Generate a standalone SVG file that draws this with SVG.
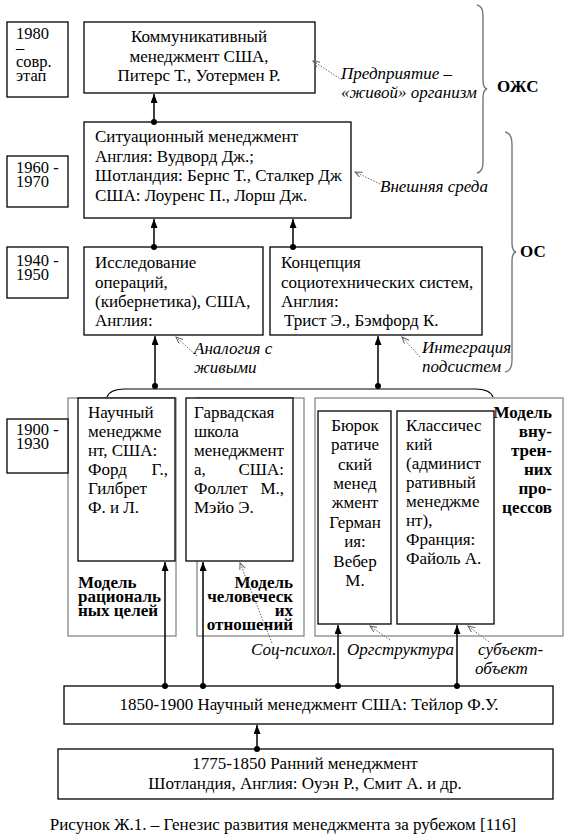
<svg xmlns="http://www.w3.org/2000/svg" width="574" height="838" viewBox="0 0 574 838" font-family="'Liberation Serif', 'Times New Roman', serif">
<style>
text{font-family:'Liberation Serif','Times New Roman',serif;font-size:17px;fill:#000}
.b{font-weight:bold}
.i{font-style:italic}
.c{text-anchor:middle}
.e{text-anchor:end}
.y{font-size:16.5px}
.box{fill:#fff;stroke:#000;stroke-width:1.3}
.grp{fill:none;stroke:#888;stroke-width:1.3}
.con{stroke:#000;stroke-width:1.5;fill:none}
.dot{fill:#000}
.hint{stroke:#666;stroke-width:1;stroke-dasharray:1.5 1.5;fill:none}
.brace{stroke:#777;stroke-width:1.4;fill:none}
</style>
<defs>
<marker id="ah" markerUnits="userSpaceOnUse" markerWidth="8" markerHeight="10" refX="9" refY="3.5" orient="auto">
<path d="M0,0 L9,3.5 L0,7 z" fill="#000"/>
</marker>
<marker id="ha" markerUnits="userSpaceOnUse" markerWidth="8" markerHeight="8" refX="7" refY="3" orient="auto">
<path d="M0,0 L7,3 L0,6" fill="none" stroke="#666" stroke-width="1"/>
</marker>
</defs>

<g id="groups">
<rect class="grp" x="68" y="398" width="108" height="238"/>
<rect class="grp" x="197" y="398" width="107" height="238"/>
<rect class="grp" x="315" y="398" width="248" height="238"/>
</g>

<g id="year-1980"><rect class="box" x="7" y="22" width="61" height="75"/>
<text class="y" x="16" y="39">1980</text><text class="y" x="16" y="53">–</text><text class="y" x="16" y="67">совр.</text><text class="y" x="16" y="81">этап</text></g>
<g id="year-1960"><rect class="box" x="7" y="156" width="61" height="51"/>
<text class="y" x="16" y="173">1960 -</text><text class="y" x="16" y="187">1970</text></g>
<g id="year-1940"><rect class="box" x="7" y="247" width="61" height="51"/>
<text class="y" x="16" y="266">1940 -</text><text class="y" x="16" y="280">1950</text></g>
<g id="year-1900"><rect class="box" x="7" y="419" width="61" height="54"/>
<text class="y" x="16" y="435">1900 -</text><text class="y" x="16" y="449">1930</text></g>

<g id="n-communicative"><rect class="box" x="84" y="22" width="231" height="71"/>
<text class="c" x="199" y="42">Коммуникативный</text>
<text class="c" x="199" y="62">менеджмент США,</text>
<text class="c" x="199" y="81">Питерс Т., Уотермен Р.</text></g>

<g id="n-situational"><rect class="box" x="84" y="122" width="267" height="96"/>
<text x="95" y="142">Ситуационный менеджмент</text>
<text x="95" y="162">Англия: Вудворд Дж.;</text>
<text x="95" y="181">Шотландия: Бернс Т., Сталкер Дж</text>
<text x="95" y="201">США: Лоуренс П., Лорш Дж.</text></g>

<g id="n-operations"><rect class="box" x="84" y="247" width="179" height="88"/>
<text x="95" y="268">Исследование</text>
<text x="95" y="288">операций,</text>
<text x="95" y="307">(кибернетика), США,</text>
<text x="95" y="326">Англия:</text></g>

<g id="n-sociotech"><rect class="box" x="270" y="247" width="212" height="88"/>
<text x="281" y="268">Концепция</text>
<text x="281" y="288">социотехнических систем,</text>
<text x="281" y="307">Англия:</text>
<text x="284" y="326">Трист Э., Бэмфорд К.</text></g>

<g id="n-scientific"><rect class="box" x="78" y="398" width="97" height="163"/>
<text x="88" y="418">Научный</text>
<text x="88" y="437">менеджме</text>
<text x="88" y="456">нт, США:</text>
<text x="88" y="475">Форд</text><text class="e" x="168" y="475">Г.,</text>
<text x="88" y="494">Гилбрет</text>
<text x="88" y="513">Ф. и Л.</text></g>

<g id="n-harvard"><rect class="box" x="186" y="398" width="107" height="163"/>
<text x="194" y="418">Гарвадская</text>
<text x="194" y="437">школа</text>
<text x="194" y="456">менеджмент</text>
<text x="194" y="475">а,</text><text class="e" x="284" y="475">США:</text>
<text x="194" y="494">Фоллет</text><text class="e" x="284" y="494">М.,</text>
<text x="194" y="513">Мэйо Э.</text></g>

<g id="n-bureaucratic"><rect class="box" x="318" y="411" width="73" height="213"/>
<text class="c" x="355" y="431">Бюрок</text>
<text class="c" x="355" y="450">ратиче</text>
<text class="c" x="355" y="470">ский</text>
<text class="c" x="355" y="489">менед</text>
<text class="c" x="355" y="508">жмент</text>
<text class="c" x="355" y="528">Герман</text>
<text class="c" x="355" y="547">ия:</text>
<text class="c" x="355" y="567">Вебер</text>
<text class="c" x="355" y="586">М.</text></g>

<g id="n-classic"><rect class="box" x="397" y="411" width="97" height="213"/>
<text x="406" y="431">Классичес</text>
<text x="406" y="450">кий</text>
<text x="406" y="469">(админист</text>
<text x="406" y="488">ративный</text>
<text x="406" y="507">менеджме</text>
<text x="406" y="526">нт),</text>
<text x="406" y="545">Франция:</text>
<text x="406" y="564">Файоль А.</text></g>

<g id="labels-models">
<text class="b" x="78" y="588">Модель</text>
<text class="b" x="78" y="602">рациональ</text>
<text class="b" x="78" y="616">ных целей</text>
<text class="b e" x="293" y="588">Модель</text>
<text class="b e" x="293" y="602">человеческ</text>
<text class="b e" x="293" y="616">их</text>
<text class="b e" x="293" y="630">отношений</text>
<text class="b e" x="552" y="418">Модель</text>
<text class="b e" x="552" y="437">вну-</text>
<text class="b e" x="552" y="456">трен-</text>
<text class="b e" x="552" y="475">них</text>
<text class="b e" x="552" y="494">про-</text>
<text class="b e" x="552" y="513">цессов</text>
</g>

<g id="n-taylor"><rect class="box" x="64" y="686" width="489" height="38"/>
<text class="c" x="309" y="710">1850-1900 Научный менеджмент США: Тейлор Ф.У.</text></g>

<g id="n-early"><rect class="box" x="58" y="749" width="495" height="50"/>
<text class="c" x="305" y="769">1775-1850 Ранний менеджмент</text>
<text class="c" x="305" y="789">Шотландия, Англия: Оуэн Р., Смит А. и др.</text></g>

<g id="braces">
<path class="brace" d="M477,5 Q483,6 483,16 L483,80 Q483,88 487,89 Q483,90 483,98 L483,162 Q483,172 477,173"/>
<path class="brace" d="M505,132 Q512,133 512,145 L512,243 Q512,251 516,252 Q512,253 512,261 L512,360 Q512,371 505,372"/>
<path class="con" style="stroke-width:1.2" d="M107,397 Q110,389 125,389 L475,389 Q490,389 493,397"/>
<text class="b" x="497" y="92">ОЖС</text>
<text class="b" x="520" y="257">ОС</text>
</g>

<g id="connectors">
<line class="con" x1="154" y1="122" x2="154" y2="94" marker-end="url(#ah)"/>
<line class="con" x1="154" y1="247" x2="154" y2="219" marker-end="url(#ah)"/>
<line class="con" x1="293" y1="247" x2="293" y2="219" marker-end="url(#ah)"/>
<line class="con" x1="155" y1="386" x2="155" y2="336" marker-end="url(#ah)"/>
<line class="con" x1="378" y1="386" x2="378" y2="336" marker-end="url(#ah)"/>
<line class="con" x1="165" y1="686" x2="165" y2="562" marker-end="url(#ah)"/>
<line class="con" x1="203" y1="686" x2="203" y2="562" marker-end="url(#ah)"/>
<line class="con" x1="338" y1="686" x2="338" y2="625" marker-end="url(#ah)"/>
<line class="con" x1="457" y1="686" x2="457" y2="625" marker-end="url(#ah)"/>
<line class="con" x1="257" y1="749" x2="257" y2="725" marker-end="url(#ah)"/>
<circle class="dot" cx="154" cy="122" r="3"/>
<circle class="dot" cx="154" cy="247" r="3"/>
<circle class="dot" cx="293" cy="247" r="3"/>
<circle class="dot" cx="155" cy="386" r="3"/>
<circle class="dot" cx="378" cy="386" r="3"/>
<circle class="dot" cx="165" cy="686" r="3"/>
<circle class="dot" cx="203" cy="686" r="3"/>
<circle class="dot" cx="338" cy="686" r="3"/>
<circle class="dot" cx="457" cy="686" r="3"/>
<circle class="dot" cx="257" cy="749" r="3"/>
<line class="hint" x1="342" y1="80" x2="313" y2="61" marker-end="url(#ha)"/>
<line class="hint" x1="380" y1="184" x2="355" y2="172" marker-end="url(#ha)"/>
<line class="hint" x1="197" y1="356" x2="176" y2="337" marker-end="url(#ha)"/>
<line class="hint" x1="420" y1="357" x2="402" y2="337" marker-end="url(#ha)"/>
<line class="hint" x1="272" y1="643" x2="240" y2="563" marker-end="url(#ha)"/>
<line class="hint" x1="390" y1="640" x2="370" y2="626" marker-end="url(#ha)"/>
<line class="hint" x1="489" y1="642" x2="468" y2="626" marker-end="url(#ha)"/>
</g>

<g id="hint-labels">
<text class="i" x="341" y="79">Предприятие –</text>
<text class="i" x="341" y="98">«живой» организм</text>
<text class="i" x="380" y="192">Внешняя среда</text>
<text class="i" x="194" y="354">Аналогия с</text>
<text class="i" x="194" y="373">живыми</text>
<text class="i" x="422" y="353">Интеграция</text>
<text class="i" x="422" y="372">подсистем</text>
<text class="i" x="251" y="655">Соц-психол.</text>
<text class="i" x="347" y="655">Оргструктура</text>
<text class="i" x="478" y="655">субъект-</text>
<text class="i" x="475" y="674">объект</text>
</g>

<text class="c" x="283" y="830">Рисунок Ж.1. – Генезис развития менеджмента за рубежом [116]</text>
</svg>
